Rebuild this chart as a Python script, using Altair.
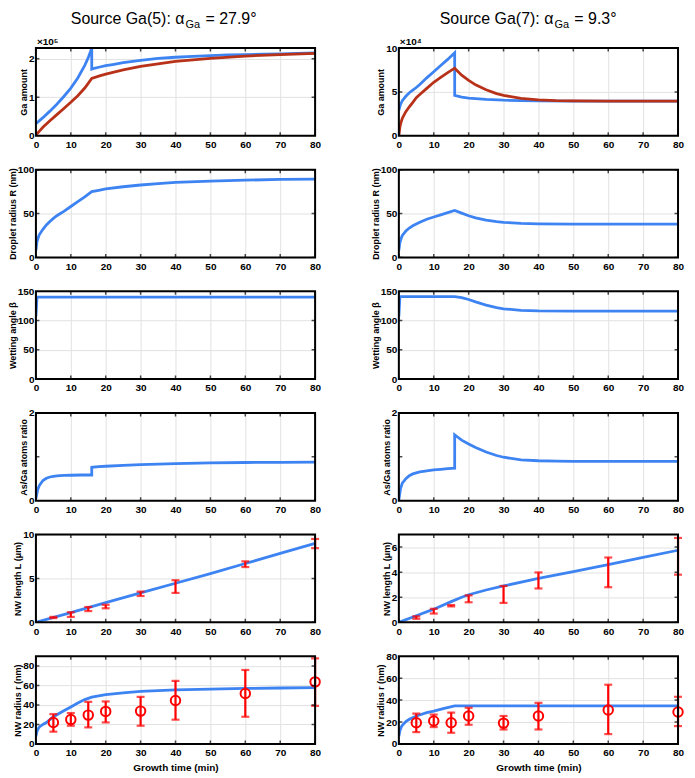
import altair as alt
import pandas as pd

# ---------------- data ----------------
X_TICKS = [0, 10, 20, 30, 40, 50, 60, 70, 80]

# Row 1: Ga amount
ga5_blue_t = [0, 2, 4, 6, 8, 10, 12, 14, 15, 16, 16, 17, 18, 20, 22, 25, 30, 35, 40, 45, 50, 55, 60, 65, 70, 75, 80]
ga5_blue_v = [0.31, 0.47, 0.64, 0.82, 1.02, 1.24, 1.50, 1.83, 2.03, 2.28, 1.73, 1.76, 1.78, 1.82, 1.85, 1.90, 1.96, 2.01, 2.04, 2.06, 2.08, 2.10, 2.11, 2.12, 2.13, 2.14, 2.15]
ga5_red_t = [0, 1, 2, 4, 6, 8, 10, 12, 14, 16, 18, 20, 25, 30, 35, 40, 45, 50, 60, 70, 80]
ga5_red_v = [0.02, 0.12, 0.22, 0.39, 0.55, 0.71, 0.87, 1.04, 1.24, 1.49, 1.55, 1.60, 1.71, 1.80, 1.87, 1.93, 1.97, 2.01, 2.07, 2.11, 2.14]
ga7_blue_t = [0, 0.5, 1, 2, 3, 4, 5, 6, 8, 10, 12, 14, 16, 16, 18, 20, 25, 30, 35, 40, 50, 60, 70, 80]
ga7_blue_v = [2.9, 3.6, 4.0, 4.5, 4.9, 5.2, 5.5, 5.85, 6.6, 7.3, 8.0, 8.7, 9.45, 4.6, 4.4, 4.3, 4.15, 4.05, 4.0, 3.97, 3.95, 3.95, 3.95, 3.95]
ga7_red_t = [0, 0.3, 0.6, 1, 2, 3, 4, 5, 6, 8, 10, 12, 14, 16, 18, 20, 22, 25, 28, 30, 35, 40, 45, 50, 60, 70, 80]
ga7_red_v = [0.0, 1.0, 1.5, 2.0, 2.75, 3.3, 3.8, 4.35, 4.7, 5.4, 6.1, 6.65, 7.2, 7.7, 6.9, 6.3, 5.8, 5.25, 4.8, 4.6, 4.25, 4.08, 4.0, 3.97, 3.95, 3.95, 3.95]

# Row 2: droplet radius R (nm)
r5_t = [0, 0.3, 0.7, 1, 2, 3, 4, 5, 6, 7, 8, 10, 12, 14, 16, 18, 20, 25, 30, 35, 40, 50, 60, 70, 80]
r5_v = [8, 18, 23, 26, 32, 37, 41, 44.5, 47.5, 50, 52.5, 58, 63.5, 69, 75, 76.5, 78, 80.5, 82.5, 84, 85.5, 87, 88, 88.8, 89.3]
r7_t = [0, 0.3, 0.7, 1, 2, 3, 4, 6, 8, 10, 12, 14, 16, 18, 20, 22, 25, 28, 30, 35, 40, 50, 60, 70, 80]
r7_v = [8, 17, 22, 25, 30, 33.5, 36, 40, 43.5, 46, 48.5, 51, 53.5, 50.5, 47.5, 45, 42.5, 40.8, 40, 38.8, 38.3, 38, 38, 38, 38]

# Row 3: wetting angle beta
b5_t = [0, 0.3, 20, 40, 60, 80]
b5_v = [107, 140, 140, 140, 140, 140]
b7_t = [0, 0.3, 16, 18, 20, 22, 25, 28, 30, 35, 40, 50, 60, 70, 80]
b7_v = [107, 141, 141, 139, 136, 132, 126.5, 122, 120, 117.5, 116.5, 116, 116, 116, 116]

# Row 4: As/Ga atoms ratio
a5_t = [0, 0.5, 1, 2, 3, 4, 5, 6, 8, 10, 13, 16, 16, 18, 20, 25, 30, 35, 40, 50, 60, 70, 80]
a5_v = [0.05, 0.25, 0.35, 0.46, 0.51, 0.54, 0.555, 0.565, 0.575, 0.58, 0.585, 0.585, 0.76, 0.775, 0.785, 0.805, 0.82, 0.835, 0.845, 0.86, 0.87, 0.875, 0.88]
a7_t = [0, 0.5, 1, 2, 3, 4, 5, 6, 8, 10, 12, 14, 16, 16, 17, 18, 20, 22, 25, 28, 30, 35, 40, 45, 50, 60, 70, 80]
a7_v = [0.02, 0.28, 0.40, 0.50, 0.57, 0.61, 0.635, 0.655, 0.68, 0.70, 0.715, 0.73, 0.74, 1.50, 1.44, 1.38, 1.29, 1.21, 1.11, 1.03, 0.99, 0.93, 0.91, 0.90, 0.895, 0.895, 0.895, 0.895]

# Row 5: NW length L (um)
l5_t = [0, 10, 20, 30, 40, 50, 60, 70, 80]
l5_v = [0, 1.1, 2.25, 3.35, 4.45, 5.55, 6.7, 7.85, 9.0]
l7_t = [0, 5, 10, 15, 18, 20, 25, 30, 40, 50, 60, 70, 80]
l7_v = [0, 0.52, 1.05, 1.65, 2.0, 2.2, 2.58, 2.9, 3.5, 4.05, 4.6, 5.18, 5.75]
exp_t = [5, 10, 15, 20, 30, 40, 60, 80]
l5_lo = [0.48, 0.62, 1.28, 1.6, 3.0, 3.35, 6.3, 8.45]
l5_hi = [0.62, 1.15, 1.75, 2.0, 3.5, 4.8, 6.95, 9.5]
l7_lo = [0.28, 0.7, 1.27, 1.6, 1.55, 2.7, 2.8, 3.8]
l7_hi = [0.48, 1.08, 1.38, 2.15, 2.9, 3.98, 5.17, 6.73]

# Row 6: NW radius r (nm)
n5_t = [0, 0.3, 0.7, 1, 2, 3, 5, 8, 10, 12, 14, 16, 20, 25, 30, 40, 50, 60, 70, 80]
n5_v = [8, 13, 16, 17.5, 20, 22, 28, 34, 38, 42, 45.5, 48, 50.5, 52.5, 54, 55.5, 56.3, 57, 57.4, 57.8]
n7_t = [0, 0.3, 0.7, 1, 2, 3, 5, 8, 10, 13, 16, 40, 80]
n7_v = [7, 12, 15.5, 17, 20.5, 22.5, 25.5, 28.5, 30, 32.5, 34.8, 34.8, 34.8]
n5_mid = [22, 25, 29.6, 33.4, 33.7, 44.6, 51.7, 63.7]
n5_lo = [12.6, 18.7, 17, 22.1, 18.7, 24.9, 27.9, 39.1]
n5_hi = [30.6, 31.7, 43.2, 43.6, 48.3, 64.7, 75.9, 87.8]
n7_mid = [19.4, 21, 19.4, 25.5, 19, 25.5, 31, 29.2]
n7_lo = [10.8, 15.4, 10.2, 17.5, 13.2, 13.2, 9, 16.3]
n7_hi = [27.7, 26.8, 28.6, 33, 25.5, 37.5, 54, 43]

# ---------------- styling ----------------
W, H = 280, 88
BLUE = "#3d83f2"
DRED = "#b8321a"
RED = "#ff0000"
FONT = "Liberation Sans"
TY = -29  # title centre relative to the top panel


def line_df(t, v):
    return pd.DataFrame({"t": t, "v": v, "i": list(range(len(t)))})


def panel(ytitle, ydom, yticks, lines, bars=None, circles=False, xtitle=False,
          header=None, expo=None):
    xs = alt.Scale(domain=[0, 80], nice=False, zero=False)
    ys = alt.Scale(domain=ydom, nice=False, zero=False)
    xax = alt.Axis(values=X_TICKS, title="Growth time (min)" if xtitle else None,
                   labelFlush=False, labelOverlap=False, labelPadding=4,
                   titlePadding=5, format="d")
    yax = alt.Axis(values=yticks, title=ytitle, labelFlush=False,
                   labelOverlap=False, labelPadding=2, titlePadding=0, format="d")

    def X(f):
        return alt.X(f"{f}:Q", scale=xs, axis=xax)

    def Y(f):
        return alt.Y(f"{f}:Q", scale=ys, axis=yax)

    layers = []
    for (t, v, c) in lines:
        layers.append(
            alt.Chart(line_df(t, v)).mark_line(color=c, strokeWidth=2.8, clip=True)
            .encode(x=X("t"), y=Y("v"), order="i:Q")
        )
    if bars is not None:
        bt, bmid, blo, bhi = bars
        bdf = pd.DataFrame({"t": bt, "v": bmid, "lo": blo, "hi": bhi})
        layers.append(alt.Chart(bdf).mark_rule(color=RED, strokeWidth=2.2)
                      .encode(x=X("t"), y=Y("lo"), y2="hi:Q"))
        layers.append(alt.Chart(bdf).mark_tick(color=RED, orient="horizontal", size=8, thickness=2.2)
                      .encode(x=X("t"), y=Y("lo")))
        layers.append(alt.Chart(bdf).mark_tick(color=RED, orient="horizontal", size=8, thickness=2.2)
                      .encode(x=X("t"), y=Y("hi")))
        if circles:
            layers.append(alt.Chart(bdf).mark_point(shape="circle", filled=False, color=RED,
                                                    size=90, strokeWidth=2, opacity=1)
                          .encode(x=X("t"), y=Y("v")))
    # inward ticks on all four sides
    xt_df = pd.DataFrame({"t": X_TICKS})
    yt_df = pd.DataFrame({"v": yticks})
    for yp in (0, H):
        layers.append(alt.Chart(xt_df).mark_tick(color="black", orient="vertical", size=7,
                                                  thickness=1.5, clip=True)
                      .encode(x=X("t"), y=alt.value(yp)))
    for xp in (0, W):
        layers.append(alt.Chart(yt_df).mark_tick(color="black", orient="horizontal", size=7,
                                                  thickness=1.5, clip=True)
                      .encode(y=Y("v"), x=alt.value(xp)))
    one = pd.DataFrame({"a": [0]})
    # box frame drawn on top of the grid
    layers.append(alt.Chart(one).mark_rect(filled=False, stroke="black", strokeWidth=2)
                  .encode(x=alt.value(0), x2=alt.value(W), y=alt.value(0), y2=alt.value(H)))
    if expo is not None:
        layers.append(alt.Chart(one).mark_text(text=expo, align="left", baseline="bottom",
                                               font=FONT, fontSize=10, fontWeight="bold",
                                               color="black")
                      .encode(x=alt.value(1), y=alt.value(-1)))
    if header is not None:
        part_a, part_c, xa = header
        layers.append(alt.Chart(one).mark_text(text=part_a, align="right", baseline="middle",
                                               font=FONT, fontSize=16, color="black")
                      .encode(x=alt.value(xa), y=alt.value(TY)))
        layers.append(alt.Chart(one).mark_text(text="Ga", align="left", baseline="middle",
                                               font=FONT, fontSize=11, color="black")
                      .encode(x=alt.value(xa + 1), y=alt.value(TY + 6)))
        layers.append(alt.Chart(one).mark_text(text=part_c, align="left", baseline="middle",
                                               font=FONT, fontSize=16, color="black")
                      .encode(x=alt.value(xa + 21), y=alt.value(TY)))
    return alt.layer(*layers).properties(width=W, height=H)


panels = [
    panel("Ga amount", [0, 2.28], [0, 1, 2],
          [(ga5_blue_t, ga5_blue_v, BLUE), (ga5_red_t, ga5_red_v, DRED)],
          header=("Source Ga(5): \u03b1", "= 27.9\u00b0", 149), expo="\u00d710\u2075"),
    panel("Ga amount", [0, 10], [0, 5, 10],
          [(ga7_blue_t, ga7_blue_v, BLUE), (ga7_red_t, ga7_red_v, DRED)],
          header=("Source Ga(7): \u03b1", "= 9.3\u00b0", 155), expo="\u00d710\u2074"),
    panel("Droplet radius R (nm)", [0, 100], [0, 50, 100], [(r5_t, r5_v, BLUE)]),
    panel("Droplet radius R (nm)", [0, 100], [0, 50, 100], [(r7_t, r7_v, BLUE)]),
    panel("Wetting angle \u03b2", [0, 150], [0, 50, 100, 150], [(b5_t, b5_v, BLUE)]),
    panel("Wetting angle \u03b2", [0, 150], [0, 50, 100, 150], [(b7_t, b7_v, BLUE)]),
    panel("As/Ga atoms ratio", [0, 2], [0, 1, 2], [(a5_t, a5_v, BLUE)]),
    panel("As/Ga atoms ratio", [0, 2], [0, 1, 2], [(a7_t, a7_v, BLUE)]),
    panel("NW length L (\u03bcm)", [0, 10], [0, 5, 10], [(l5_t, l5_v, BLUE)],
          bars=(exp_t, [(a + b) / 2 for a, b in zip(l5_lo, l5_hi)], l5_lo, l5_hi)),
    panel("NW length L (\u03bcm)", [0, 7], [0, 2, 4, 6], [(l7_t, l7_v, BLUE)],
          bars=(exp_t, [(a + b) / 2 for a, b in zip(l7_lo, l7_hi)], l7_lo, l7_hi)),
    panel("NW radius r (nm)", [0, 90], [0, 20, 40, 60, 80], [(n5_t, n5_v, BLUE)],
          bars=(exp_t, n5_mid, n5_lo, n5_hi), circles=True, xtitle=True),
    panel("NW radius r (nm)", [0, 80], [0, 20, 40, 60, 80], [(n7_t, n7_v, BLUE)],
          bars=(exp_t, n7_mid, n7_lo, n7_hi), circles=True, xtitle=True),
]

chart = (
    alt.concat(*panels, columns=2, spacing={"row": 34, "column": 84}, bounds="flush")
    .properties(padding={"left": 0, "top": 2, "right": 0, "bottom": 0})
    .configure_view(strokeWidth=0)
    .configure_axis(
        labelFont=FONT, labelFontSize=10, labelFontWeight="bold", labelColor="black",
        titleFont=FONT, titleFontSize=9, titleFontWeight="bold", titleColor="black",
        ticks=False, domain=False, grid=True, gridColor="#e2e2e2", gridWidth=1,
    )
    .configure_axisX(titleFontSize=10)
)

chart.save("out.html", embed_options={"renderer": "svg", "actions": False})
